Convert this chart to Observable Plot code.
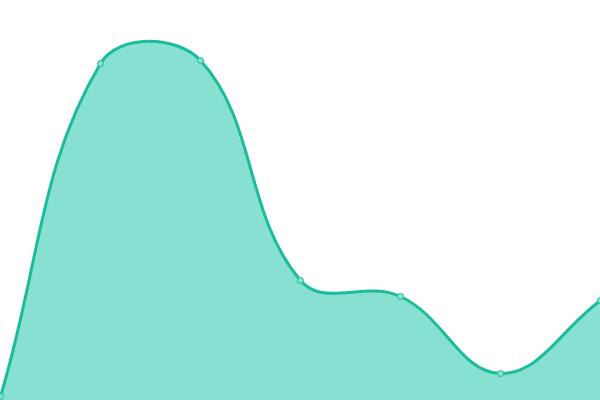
<!DOCTYPE html>
<html><head><meta charset="utf-8">
<script src="https://cdn.jsdelivr.net/npm/d3@7"></script>
<script src="https://cdn.jsdelivr.net/npm/@observablehq/plot@0.6"></script>
<style>html,body{margin:0;padding:0;background:#fff;overflow:hidden}</style>
</head><body><div id="chart"></div>
<script>
const xs = [0, 1, 2, 3, 4, 5, 6];
const values = [4, 337, 340, 120, 104, 27, 100];
const data = xs.map((x, i) => ({x, y: values[i]}));

// Tension spline (control points scaled by neighbouring chord lengths)
function tensionCurve(tension) {
  return function(context) {
    let line = NaN, pts = [];
    return {
      areaStart() { line = 0; },
      areaEnd() { line = NaN; },
      lineStart() { pts = []; },
      point(x, y) { pts.push([+x, +y]); },
      lineEnd() {
        const n = pts.length;
        if (n) {
          if (line) context.lineTo(pts[0][0], pts[0][1]); else context.moveTo(pts[0][0], pts[0][1]);
          if (n > 1) {
            const prevCp = [], nextCp = [];
            for (let i = 0; i < n; i++) {
              const p0 = pts[Math.max(0, i - 1)], p1 = pts[i], p2 = pts[Math.min(n - 1, i + 1)];
              const d01 = Math.hypot(p1[0] - p0[0], p1[1] - p0[1]);
              const d12 = Math.hypot(p2[0] - p1[0], p2[1] - p1[1]);
              let s01 = d01 / (d01 + d12), s12 = d12 / (d01 + d12);
              if (!isFinite(s01)) s01 = 0; if (!isFinite(s12)) s12 = 0;
              const fa = tension * s01, fb = tension * s12;
              prevCp.push([p1[0] - fa * (p2[0] - p0[0]), p1[1] - fa * (p2[1] - p0[1])]);
              nextCp.push([p1[0] + fb * (p2[0] - p0[0]), p1[1] + fb * (p2[1] - p0[1])]);
            }
            for (let i = 0; i < n - 1; i++) {
              context.bezierCurveTo(nextCp[i][0], nextCp[i][1], prevCp[i + 1][0], prevCp[i + 1][1], pts[i + 1][0], pts[i + 1][1]);
            }
          }
        }
        if (line || (line !== 0 && n === 1)) context.closePath();
        line = 1 - line;
      }
    };
  };
}
const curve = tensionCurve(0.4);

const chart = Plot.plot({
  width: 600, height: 400,
  margin: 0,
  x: {domain: [0, 6], axis: null},
  y: {domain: [0, 400], axis: null},
  marks: [
    Plot.areaY(data, {x: "x", y: "y", curve, fill: "#88e0d0"}),
    Plot.lineY(data, {x: "x", y: "y", curve, stroke: "#1abc9c", strokeWidth: 3}),
    Plot.dot(data, {x: "x", y: "y", r: 3, fill: "#88e0d0", stroke: "#1abc9c", strokeWidth: 1})
  ]
});
document.getElementById("chart").appendChild(chart);
</script></body></html>
